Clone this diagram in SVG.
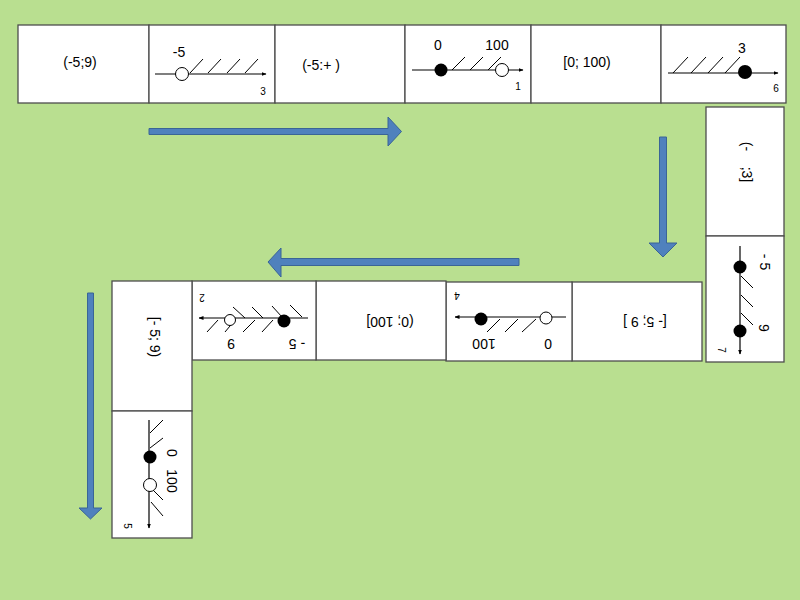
<svg xmlns="http://www.w3.org/2000/svg" width="800" height="600" viewBox="0 0 800 600">
<defs>
<marker id="ah" viewBox="0 0 10 10" refX="9" refY="5" markerWidth="5" markerHeight="5" orient="auto" markerUnits="userSpaceOnUse"><path d="M0,1 L10,5 L0,9 Z" fill="#000"/></marker>
<style>
.cell{fill:#fff;stroke:#4d4d4d;stroke-width:1.3}
.t{font-family:"Liberation Sans",Arial,sans-serif;font-size:14px;fill:#000;text-anchor:middle;dominant-baseline:central}
.s{font-family:"Liberation Sans",Arial,sans-serif;font-size:10px;fill:#000;text-anchor:middle;dominant-baseline:central}
.ax{stroke:#000;stroke-width:1.2;fill:none;marker-end:url(#ah)}
.h{stroke:#000;stroke-width:1;fill:none}
.f{fill:#000}
.o{fill:#fff;stroke:#000;stroke-width:1}
.arr{fill:#4f81bd;stroke:#3a6596;stroke-width:1}
</style>
</defs>
<rect width="800" height="600" fill="#b9df90"/>

<g id="top-row">
<g id="n1"><rect class="cell" x="18" y="25" width="131" height="78"/><text class="t" x="80" y="62">(-5;9)</text></g>
<g id="n2"><rect class="cell" x="149" y="25" width="126" height="78"/>
<text class="t" x="179" y="52">-5</text>
<line class="ax" x1="155" y1="74" x2="266" y2="74"/>
<path class="h" d="M190,73 L203,59 M208,73 L221,59 M227,73 L240,59 M245,73 L258,59"/>
<circle class="o" cx="182" cy="74" r="6.5"/>
<text class="s" x="263" y="91">3</text></g>
<g id="n3"><rect class="cell" x="275" y="25" width="130" height="78"/><text class="t" x="321" y="65">(-5:+ )</text></g>
<g id="n4"><rect class="cell" x="405" y="25" width="126" height="78"/>
<text class="t" x="438" y="45">0</text><text class="t" x="497" y="45">100</text>
<line class="ax" x1="412" y1="70" x2="523" y2="70"/>
<path class="h" d="M452,70 L465,57 M470,70 L483,57 M488,70 L501,57"/>
<circle class="f" cx="441" cy="70" r="6.5"/>
<circle class="o" cx="502" cy="70" r="6.5"/>
<text class="s" x="518" y="86">1</text></g>
<g id="n5"><rect class="cell" x="531" y="25" width="130" height="78"/><text class="t" x="587" y="62">[0; 100)</text></g>
<g id="n6"><rect class="cell" x="661" y="25" width="125" height="78"/>
<text class="t" x="742" y="48">3</text>
<line class="ax" x1="668" y1="73" x2="778" y2="73"/>
<path class="h" d="M673,73 L688,57 M691,73 L706,57 M708,73 L723,57 M725,73 L740,57"/>
<circle class="f" cx="745" cy="72" r="7"/>
<text class="s" x="776" y="88">6</text></g>
</g>

<g id="right-col">
<g id="n7"><rect class="cell" x="706" y="107" width="78" height="129"/>
<text class="t" x="747" y="162" transform="rotate(90 747 162)">(-&#160;&#160;&#160;&#160;;3]</text></g>
<g id="n8"><rect class="cell" x="706" y="236" width="78" height="126"/>
<line class="ax" x1="740" y1="246" x2="740" y2="354"/>
<path class="h" d="M741,276 L753,288 M741,295 L753,307 M741,313 L753,325"/>
<circle class="f" cx="740" cy="267" r="6.5"/>
<circle class="f" cx="740" cy="331" r="6.5"/>
<text class="t" x="765" y="262" transform="rotate(90 765 262)">- 5</text>
<text class="t" x="764" y="328" transform="rotate(90 764 328)">9</text>
<text class="s" x="721" y="350" transform="rotate(90 721 350)">7</text></g>
</g>

<g id="middle-row">
<g id="n9"><rect class="cell" x="572" y="282" width="130" height="79"/>
<text class="t" x="645" y="322" transform="rotate(180 645 322)">[- 5; 9 ]</text></g>
<g id="n10"><rect class="cell" x="446" y="282" width="126" height="79"/>
<line class="ax" x1="566" y1="317" x2="455" y2="317"/>
<path class="h" d="M487,332 L500,319 M505,332 L518,319 M522,332 L536,319"/>
<circle class="f" cx="481" cy="319" r="6.5"/>
<circle class="o" cx="546" cy="318" r="6"/>
<text class="t" x="484" y="344" transform="rotate(180 484 344)">100</text>
<text class="t" x="548" y="344" transform="rotate(180 548 344)">0</text>
<text class="s" x="457" y="295" transform="rotate(180 457 295)">4</text></g>
<g id="n11"><rect class="cell" x="316" y="281" width="130" height="79"/>
<text class="t" x="390" y="322" transform="rotate(180 390 322)">(0; 100]</text></g>
<g id="n12"><rect class="cell" x="192" y="281" width="124" height="79"/>
<line class="ax" x1="308" y1="318" x2="199" y2="318"/>
<path class="h" d="M233,307 L245,318 M252,307 L263,318 M272,306 L282,317 M290,305 L302,317"/>
<path class="h" d="M207,332 L218,320 M225,332 L235,320 M243,332 L255,320 M262,332 L273,320"/>
<circle class="o" cx="230" cy="320" r="5.5"/>
<circle class="f" cx="284" cy="321" r="6.5"/>
<text class="t" x="231" y="344" transform="rotate(180 231 344)">9</text>
<text class="t" x="297" y="344" transform="rotate(180 297 344)">- 5</text>
<text class="s" x="202" y="297" transform="rotate(180 202 297)">2</text></g>
</g>

<g id="left-col">
<g id="n13"><rect class="cell" x="112" y="281" width="80" height="130"/>
<text class="t" x="155" y="337" transform="rotate(90 155 337)">[- 5; 9)</text></g>
<g id="n14"><rect class="cell" x="112" y="411" width="80" height="127"/>
<line class="ax" x1="149" y1="420" x2="149" y2="528"/>
<path class="h" d="M150,433 L163,420 M150,448 L163,438"/>
<path class="h" d="M152,489 L163,500 M151,502 L163,516"/>
<circle class="f" cx="150" cy="457" r="6.5"/>
<circle class="o" cx="150" cy="485" r="6.5"/>
<text class="t" x="172" y="453" transform="rotate(90 172 453)">0</text>
<text class="t" x="172" y="481" transform="rotate(90 172 481)">100</text>
<text class="s" x="127" y="526" transform="rotate(90 127 526)">5</text></g>
</g>

<g id="connectors">
<path class="arr" d="M149,128.5 L388,128.5 L388,117 L401.5,131.5 L388,146 L388,134.5 L149,134.5 Z"/>
<path class="arr" d="M659.5,137 L666.5,137 L666.5,243 L677,243 L663,257 L649,243 L659.5,243 Z"/>
<path class="arr" d="M519,258.5 L519,265.5 L281,265.5 L281,277 L268,262 L281,248 L281,258.5 Z"/>
<path class="arr" d="M87.5,293 L93.5,293 L93.5,508 L102,508 L90.5,519 L79,508 L87.5,508 Z"/>
</g>
</svg>
